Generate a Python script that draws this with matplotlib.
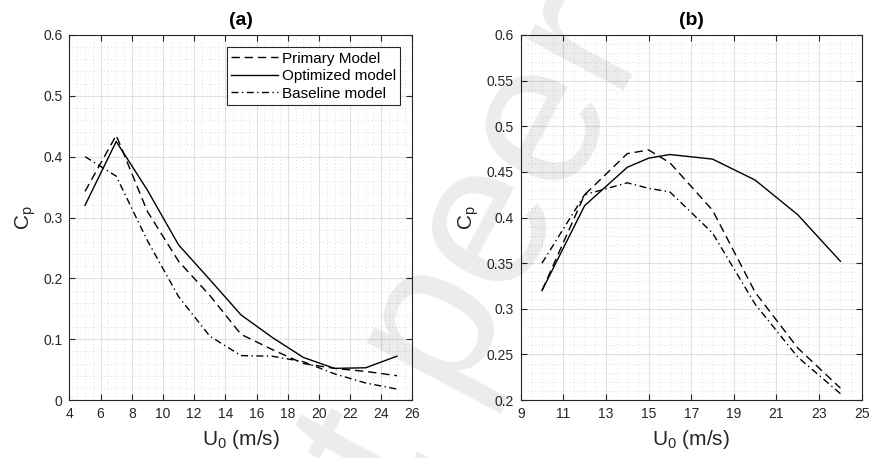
import matplotlib
matplotlib.use("Agg")
import matplotlib.pyplot as plt
from matplotlib.ticker import MultipleLocator

plt.rcParams['font.family'] = ['Liberation Sans', 'DejaVu Sans']
plt.rcParams['mathtext.default'] = 'regular'

# (a) power coefficient vs wind speed
a_u = [5, 7, 9, 11, 13, 15, 17, 19, 21, 23, 25]
a_primary = [0.343, 0.435, 0.31, 0.228, 0.172, 0.108, 0.083, 0.060, 0.052, 0.047, 0.040]
a_optimized = [0.32, 0.425, 0.345, 0.255, 0.198, 0.14, 0.103, 0.070, 0.052, 0.053, 0.072]
a_baseline = [0.40, 0.368, 0.262, 0.17, 0.105, 0.073, 0.072, 0.063, 0.043, 0.028, 0.018]

# (b)
b_u = [10, 12, 14, 15, 16, 18, 20, 22, 24]
b_primary = [0.32, 0.425, 0.47, 0.474, 0.46, 0.408, 0.318, 0.257, 0.213]
b_optimized = [0.32, 0.413, 0.455, 0.465, 0.469, 0.464, 0.441, 0.403, 0.352]
b_baseline = [0.35, 0.425, 0.438, 0.432, 0.428, 0.383, 0.305, 0.247, 0.207]

labels = ['Primary Model', 'Optimized model', 'Baseline model']
a_xticks = [4, 6, 8, 10, 12, 14, 16, 18, 20, 22, 24, 26]
a_yticks = ['0', '0.1', '0.2', '0.3', '0.4', '0.5', '0.6']
b_xticks = [9, 11, 13, 15, 17, 19, 21, 23, 25]
b_yticks = ['0.2', '0.25', '0.3', '0.35', '0.4', '0.45', '0.5', '0.55', '0.6']

fig = plt.figure(figsize=(8.7, 4.58), dpi=100)
ax1 = fig.add_axes([0.0798, 0.1266, 0.3943, 0.797])
ax2 = fig.add_axes([0.5985, 0.1266, 0.392, 0.797])

dash = (6, 3.5)
dashdot = (5, 2.5, 1, 2.5)


def style(ax, xticks, ylabels, xmin, ymin):
    ax.set_xlim(xticks[0], xticks[-1])
    ax.set_xticks(xticks)
    yv = [float(v) for v in ylabels]
    ax.set_ylim(yv[0], yv[-1])
    ax.set_yticks(yv)
    ax.set_yticklabels(ylabels)
    ax.xaxis.set_minor_locator(MultipleLocator(xmin))
    ax.yaxis.set_minor_locator(MultipleLocator(ymin))
    ax.grid(which='major', color='#e0e0e0', lw=0.8, ls='-')
    ax.grid(which='minor', color='#c0c0c0', lw=0.5, ls=(0, (1, 4)))
    ax.set_axisbelow(True)
    ax.tick_params(which='major', direction='in', length=4, width=0.8,
                   top=True, right=True, labelsize=10, colors='#262626', pad=5)
    ax.tick_params(which='minor', length=0)
    for s in ax.spines.values():
        s.set_color('#262626')
        s.set_linewidth(0.8)
    ax.set_xlabel('U$_0$ (m/s)', fontsize=15, color='#262626', labelpad=5)
    ax.set_ylabel('C$_p$', fontsize=15, color='#262626', labelpad=4)


ax1.plot(a_u, a_primary, color='black', lw=1.0, dashes=dash, label=labels[0])
ax1.plot(a_u, a_optimized, color='black', lw=1.0, ls='-', label=labels[1])
ax1.plot(a_u, a_baseline, color='black', lw=1.0, dashes=dashdot, label=labels[2])
style(ax1, a_xticks, a_yticks, 0.5, 0.02)
ax1.set_title('(a)', fontsize=14, fontweight='bold', pad=7)
leg = ax1.legend(loc='upper right', fontsize=11, handlelength=3.1,
                 handletextpad=0.2, borderpad=0.3, labelspacing=0.23,
                 fancybox=False, framealpha=1, edgecolor='#262626',
                 borderaxespad=0.8)
leg.get_frame().set_linewidth(0.8)

ax2.plot(b_u, b_primary, color='black', lw=1.0, dashes=dash)
ax2.plot(b_u, b_optimized, color='black', lw=1.0, ls='-')
ax2.plot(b_u, b_baseline, color='black', lw=1.0, dashes=dashdot)
style(ax2, b_xticks, b_yticks, 0.5, 0.01)
ax2.set_title('(b)', fontsize=14, fontweight='bold', pad=7)

# faint watermark running diagonally across the figure
fig.text(0.747, 0.908, 'not peer', rotation=62, ha='right', va='baseline',
         rotation_mode='anchor', fontsize=148, color='black', alpha=0.08,
         zorder=10)

fig.savefig('out.png', dpi=100)
